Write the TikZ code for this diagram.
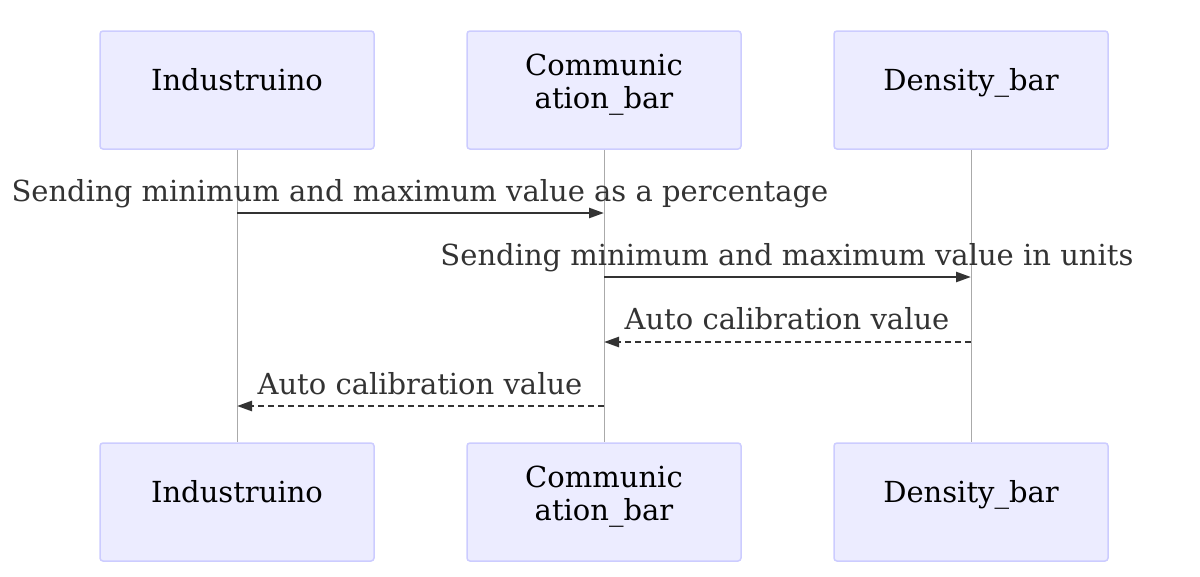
\documentclass[tikz,border=0pt]{standalone}
\usepackage{fontspec}
\setmainfont{DejaVu Serif}
\usetikzlibrary{arrows.meta}
\definecolor{actfill}{HTML}{ECECFF}
\definecolor{actdraw}{HTML}{CCCCFF}
\definecolor{msgcol}{HTML}{333333}
\definecolor{lifecol}{HTML}{AAAAAA}
\begin{document}
\begin{tikzpicture}[x=1pt,y=-1pt,
  actor/.style={draw=actdraw,fill=actfill,line width=1.5pt,rounded corners=3pt,minimum width=274pt,minimum height=118pt,inner sep=0pt},
  actlabel/.style={font=\fontsize{29}{33}\selectfont,text=black,align=center,inner sep=0pt},
  life/.style={draw=lifecol,line width=1pt},
  msg/.style={draw=msgcol,line width=2.5pt,-{Triangle[length=15pt,width=10pt]}},
  reply/.style={msg,dash pattern=on 6pt off 4pt},
  msglabel/.style={font=\fontsize{29}{33}\selectfont,text=msgcol,anchor=base,inner sep=0pt}]
\useasboundingbox (0,0) rectangle (1200,576);
% top actors
\node[actor] (a1) at (237,90) {};
\node[actor] (a2) at (604,90) {};
\node[actor] (a3) at (971,90) {};
% bottom actors
\node[actor] (b1) at (237,502) {};
\node[actor] (b2) at (604,502) {};
\node[actor] (b3) at (971,502) {};
% labels
\node[actlabel,anchor=base] (ta1) at (237,90) {Industruino};
\node[actlabel,anchor=base] (ta3) at (971,90) {Density\_bar};
\node[actlabel,anchor=base] (ta2a) at (604,75) {Communic};
\node[actlabel,anchor=base] (ta2b) at (604,108) {ation\_bar};
\node[actlabel,anchor=base] (tb1) at (237,502) {Industruino};
\node[actlabel,anchor=base] (tb3) at (971,502) {Density\_bar};
\node[actlabel,anchor=base] (tb2a) at (604,487) {Communic};
\node[actlabel,anchor=base] (tb2b) at (604,520) {ation\_bar};
% lifelines
\draw[life] (a1.south) -- (b1.north);
\draw[life] (a2.south) -- (b2.north);
\draw[life] (a3.south) -- (b3.north);
% message points
\coordinate (m1s) at (237,213); \coordinate (m1e) at (604,213);
\coordinate (m2s) at (604,277); \coordinate (m2e) at (971,277);
\coordinate (m3s) at (971,342); \coordinate (m3e) at (604,342);
\coordinate (m4s) at (604,406); \coordinate (m4e) at (237,406);
\draw[msg] (m1s) -- (m1e);
\draw[msg] (m2s) -- (m2e);
\draw[reply] (m3s) -- (m3e);
\draw[reply] (m4s) -- (m4e);
\node[msglabel] (l1) at (420,201) {Sending minimum and maximum value as a percentage};
\node[msglabel] (l2) at (787,265) {Sending minimum and maximum value in units};
\node[msglabel] (l3) at (787,329) {Auto calibration value};
\node[msglabel] (l4) at (420,394) {Auto calibration value};
\end{tikzpicture}
\end{document}
